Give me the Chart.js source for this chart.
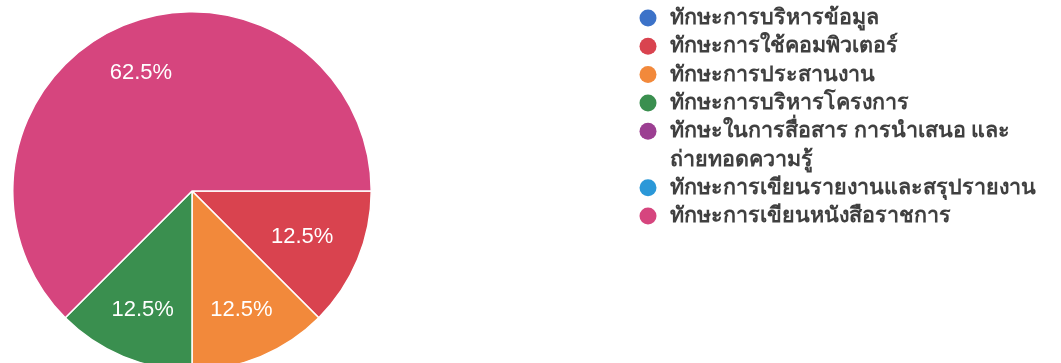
<!DOCTYPE html>
<html>
<head>
<meta charset="utf-8">
<script src="https://cdn.jsdelivr.net/npm/chart.js@4.4.1/dist/chart.umd.min.js"></script>
<style>
  html, body { margin: 0; padding: 0; background: #ffffff; overflow: hidden; }
  #wrap { position: relative; width: 1061px; height: 363px; overflow: hidden; }
  #wrap canvas { position: absolute; left: 0; top: 0; }
</style>
</head>
<body>
<div id="wrap"><canvas id="c" width="1061" height="400"></canvas></div>
<script>
// Skill categories (legend lines; an array is a wrapped label)
const categories = [
  'ทักษะการบริหารข้อมูล',
  'ทักษะการใช้คอมพิวเตอร์',
  'ทักษะการประสานงาน',
  'ทักษะการบริหารโครงการ',
  ['ทักษะในการสื่อสาร การนำเสนอ และ', 'ถ่ายทอดความรู้'],
  'ทักษะการเขียนรายงานและสรุปรายงาน',
  'ทักษะการเขียนหนังสือราชการ'
];
// Number of responses per category
const responses = [0, 1, 1, 1, 0, 0, 5];
const sliceColors = ['#3c72c8', '#d9434f', '#f2893b', '#3a8f4f', '#9c3f92', '#2b98d8', '#d6457e'];

const total = responses.reduce((a, b) => a + b, 0);

// Percentage labels inside the slices
const sliceLabels = {
  id: 'sliceLabels',
  afterDatasetsDraw(chart, args, opts) {
    const ctx = chart.ctx;
    const meta = chart.getDatasetMeta(0);
    ctx.save();
    ctx.font = opts.font;
    ctx.fillStyle = opts.color;
    ctx.textAlign = 'center';
    ctx.textBaseline = 'middle';
    meta.data.forEach((arc, i) => {
      const v = responses[i];
      if (!v) return;
      const p = arc.getProps(['x', 'y', 'startAngle', 'endAngle', 'outerRadius'], true);
      const place = (opts.placement && opts.placement[i]) || {};
      const ang = place.angle !== undefined ? place.angle * Math.PI / 180 : (p.startAngle + p.endAngle) / 2;
      const r = p.outerRadius * (place.r !== undefined ? place.r : opts.r);
      const pct = (v / total * 100).toFixed(1) + '%';
      ctx.fillText(pct, p.x + Math.cos(ang) * r, p.y + Math.sin(ang) * r);
    });
    ctx.restore();
  }
};

// Legend column to the right of the pie
const sideLegend = {
  id: 'sideLegend',
  afterDraw(chart, args, opts) {
    const ctx = chart.ctx;
    ctx.save();
    ctx.font = opts.font;
    ctx.textBaseline = 'middle';
    ctx.textAlign = 'left';
    let y = opts.top;
    categories.forEach((label, i) => {
      const lines = Array.isArray(label) ? label : [label];
      ctx.fillStyle = sliceColors[i];
      ctx.beginPath();
      ctx.arc(opts.left, y, opts.dot, 0, Math.PI * 2);
      ctx.fill();
      ctx.fillStyle = opts.color;
      lines.forEach((line, k) => {
        ctx.fillText(line, opts.textLeft, y + k * opts.lineStep);
      });
      y += lines.length * opts.lineStep;
    });
    ctx.restore();
  }
};

new Chart(document.getElementById('c'), {
  type: 'pie',
  data: {
    labels: categories,
    datasets: [{
      data: responses,
      backgroundColor: sliceColors,
      borderColor: '#ffffff',
      borderWidth: 1.5
    }]
  },
  options: {
    responsive: false,
    animation: false,
    rotation: 90,
    layout: { padding: { left: 12, top: 11, right: 689, bottom: 29 } },
    plugins: {
      legend: { display: false },
      tooltip: { enabled: false },
      sliceLabels: {
        font: '22px "Liberation Sans", Arial, sans-serif',
        color: '#ffffff',
        r: 0.72,
        placement: { 1: { r: 0.665 }, 6: { angle: 246.7 } }
      },
      sideLegend: {
        font: '600 21.5px "Noto Sans", "DejaVu Sans", sans-serif',
        color: '#404040',
        left: 648,
        textLeft: 670,
        top: 18,
        dot: 8.5,
        lineStep: 28.3
      }
    }
  },
  plugins: [sliceLabels, sideLegend]
});
</script>
</body>
</html>
